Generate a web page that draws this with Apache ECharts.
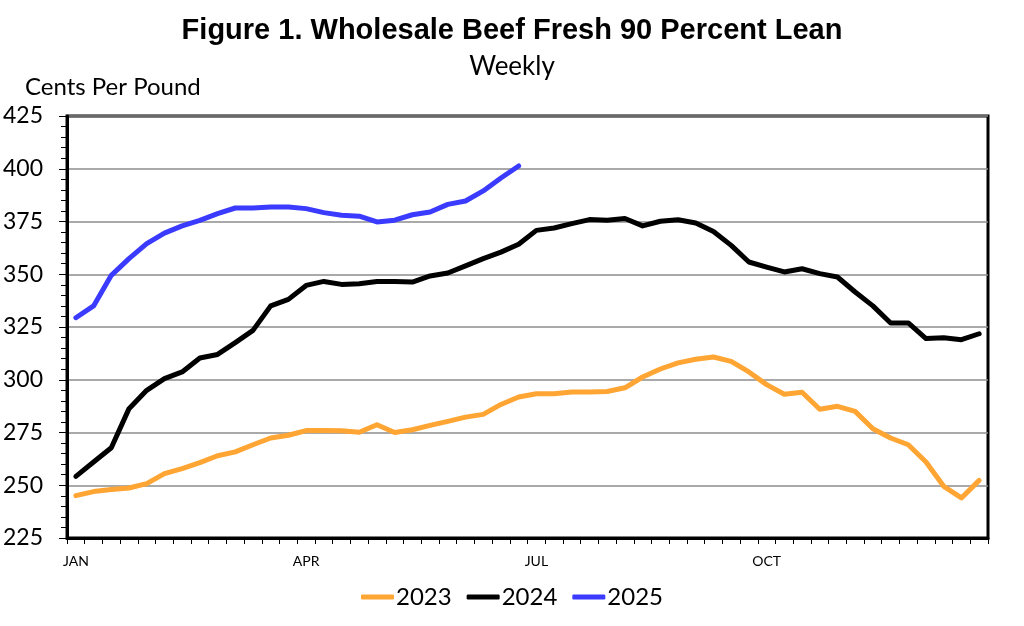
<!DOCTYPE html>
<html>
<head>
<meta charset="utf-8">
<script src="https://cdn.jsdelivr.net/npm/echarts@6/dist/echarts.min.js"></script>
<style>
  html, body { margin: 0; padding: 0; background: #fff; }
  #chart { width: 1024px; height: 626px; }
</style>
</head>
<body>
<div id="chart"></div>
<script>
// week of year, 1..52
var weeks = [1, 2, 3, 4, 5, 6, 7, 8, 9, 10, 11, 12, 13,
    14, 15, 16, 17, 18, 19, 20, 21, 22, 23, 24, 25, 26,
    27, 28, 29, 30, 31, 32, 33, 34, 35, 36, 37, 38, 39,
    40, 41, 42, 43, 44, 45, 46, 47, 48, 49, 50, 51, 52];

// month labels and the week they sit under
var monthLabels = ['JAN', 'APR', 'JUL', 'OCT'];
var monthWeeks = [1, 14, 27, 40];

var yTicks = [225, 250, 275, 300, 325, 350, 375, 400, 425];

// cents per pound
var y2023 = [245.1, 247.0, 248.0, 248.7, 250.8, 255.5, 257.9, 260.7, 264.0, 265.8, 269.2, 272.4, 273.7,
    275.9, 276.0, 275.8, 275.1, 278.7, 275.0, 276.3, 278.4, 280.3, 282.3, 283.6, 288.3, 291.8,
    293.4, 293.4, 294.2, 294.2, 294.4, 296.2, 301.3, 305.1, 308.0, 309.7, 310.8, 308.7, 303.7,
    297.7, 293.1, 294.1, 286.0, 287.4, 285.0, 276.8, 272.4, 269.2, 261.0, 249.5, 244.0, 252.3];

var y2024 = [254.2, 261.0, 267.8, 286.3, 295.0, 300.5, 303.7, 310.3, 312.0, 317.6, 323.4, 335.0, 338.1,
    344.7, 346.6, 345.2, 345.5, 346.6, 346.6, 346.3, 349.2, 350.6, 354.0, 357.4, 360.5, 364.2,
    370.8, 371.9, 374.0, 375.9, 375.6, 376.4, 372.9, 375.1, 375.8, 374.3, 370.3, 363.7, 355.8,
    353.4, 351.1, 352.6, 350.3, 348.7, 341.6, 335.0, 326.9, 326.9, 319.5, 319.9, 319.0, 321.8];

var y2025 = [329.4, 335.0, 349.5, 357.4, 364.5, 369.5, 372.9, 375.5, 378.7, 381.4, 381.4, 381.9, 381.9,
    381.1, 379.2, 378.0, 377.5, 374.8, 375.6, 378.2, 379.5, 383.1, 384.7, 389.5, 395.6, 401.3];

var chart = echarts.init(document.getElementById('chart'));

var labelFont = 'Lato, "Open Sans", sans-serif';

function lineSeries(name, color, data) {
    return {
        name: name,
        type: 'line',
        data: data,
        showSymbol: false,
        symbol: 'none',
        smooth: false,
        animation: false,
        lineStyle: { color: color, width: 5, cap: 'round', join: 'round' },
        itemStyle: { color: color }
    };
}

var option = {
    backgroundColor: '#fff',
    animation: false,
    title: [{
        text: 'Figure 1. Wholesale Beef Fresh 90 Percent Lean',
        left: 'center',
        top: 11,
        textStyle: {
            fontFamily: '"Liberation Sans", Arial, sans-serif',
            fontWeight: 'bold',
            fontSize: 29,
            color: '#000'
        }
    }, {
        text: 'Weekly',
        left: 'center',
        top: 49,
        textStyle: {
            fontFamily: labelFont,
            fontWeight: 'normal',
            fontSize: 26,
            color: '#000'
        }
    }, {
        text: 'Cents Per Pound',
        left: 20,
        top: 70,
        textStyle: {
            fontFamily: labelFont,
            fontWeight: 'normal',
            fontSize: 24,
            color: '#000'
        }
    }],
    legend: {
        bottom: 12,
        left: 'center',
        itemWidth: 33,
        itemHeight: 5,
        itemGap: 15,
        icon: 'roundRect',
        textStyle: { fontFamily: labelFont, fontSize: 24, color: '#000', padding: [0, 0, 0, -3] },
        data: ['2023', '2024', '2025']
    },
    grid: {
        left: 67,
        right: 36,
        top: 116,
        bottom: 88,
        show: true,
        borderColor: '#000',
        borderWidth: 3,
        backgroundColor: 'transparent'
    },
    xAxis: {
        type: 'category',
        data: weeks,
        boundaryGap: true,
        axisLine: { show: true, lineStyle: { color: '#000', width: 3 } },
        axisTick: { show: true, interval: 0, length: 6, lineStyle: { color: '#000', width: 1 } },
        axisLabel: {
            interval: 0,
            margin: 16,
            fontFamily: labelFont,
            fontSize: 14,
            color: '#000',
            formatter: function (value) {
                var i = monthWeeks.indexOf(Number(value));
                return i >= 0 ? monthLabels[i] : '';
            }
        },
        splitLine: { show: false }
    },
    yAxis: {
        type: 'value',
        min: yTicks[0],
        max: yTicks[yTicks.length - 1],
        interval: 25,
        axisLine: { show: true, lineStyle: { color: '#000', width: 3 } },
        axisTick: { show: true, length: 8, lineStyle: { color: '#000', width: 1 } },
        minorTick: { show: true, splitNumber: 5, length: 6, lineStyle: { color: '#000', width: 1 } },
        axisLabel: {
            margin: 24,
            fontFamily: labelFont,
            fontSize: 23,
            color: '#000'
        },
        splitLine: { show: true, lineStyle: { color: '#8c8c8c', width: 1.5 } }
    },
    series: [
        lineSeries('2023', '#FFA533', y2023),
        lineSeries('2024', '#000000', y2024),
        lineSeries('2025', '#3B3BFF', y2025)
    ]
};

option && chart.setOption(option);
</script>
</body>
</html>
